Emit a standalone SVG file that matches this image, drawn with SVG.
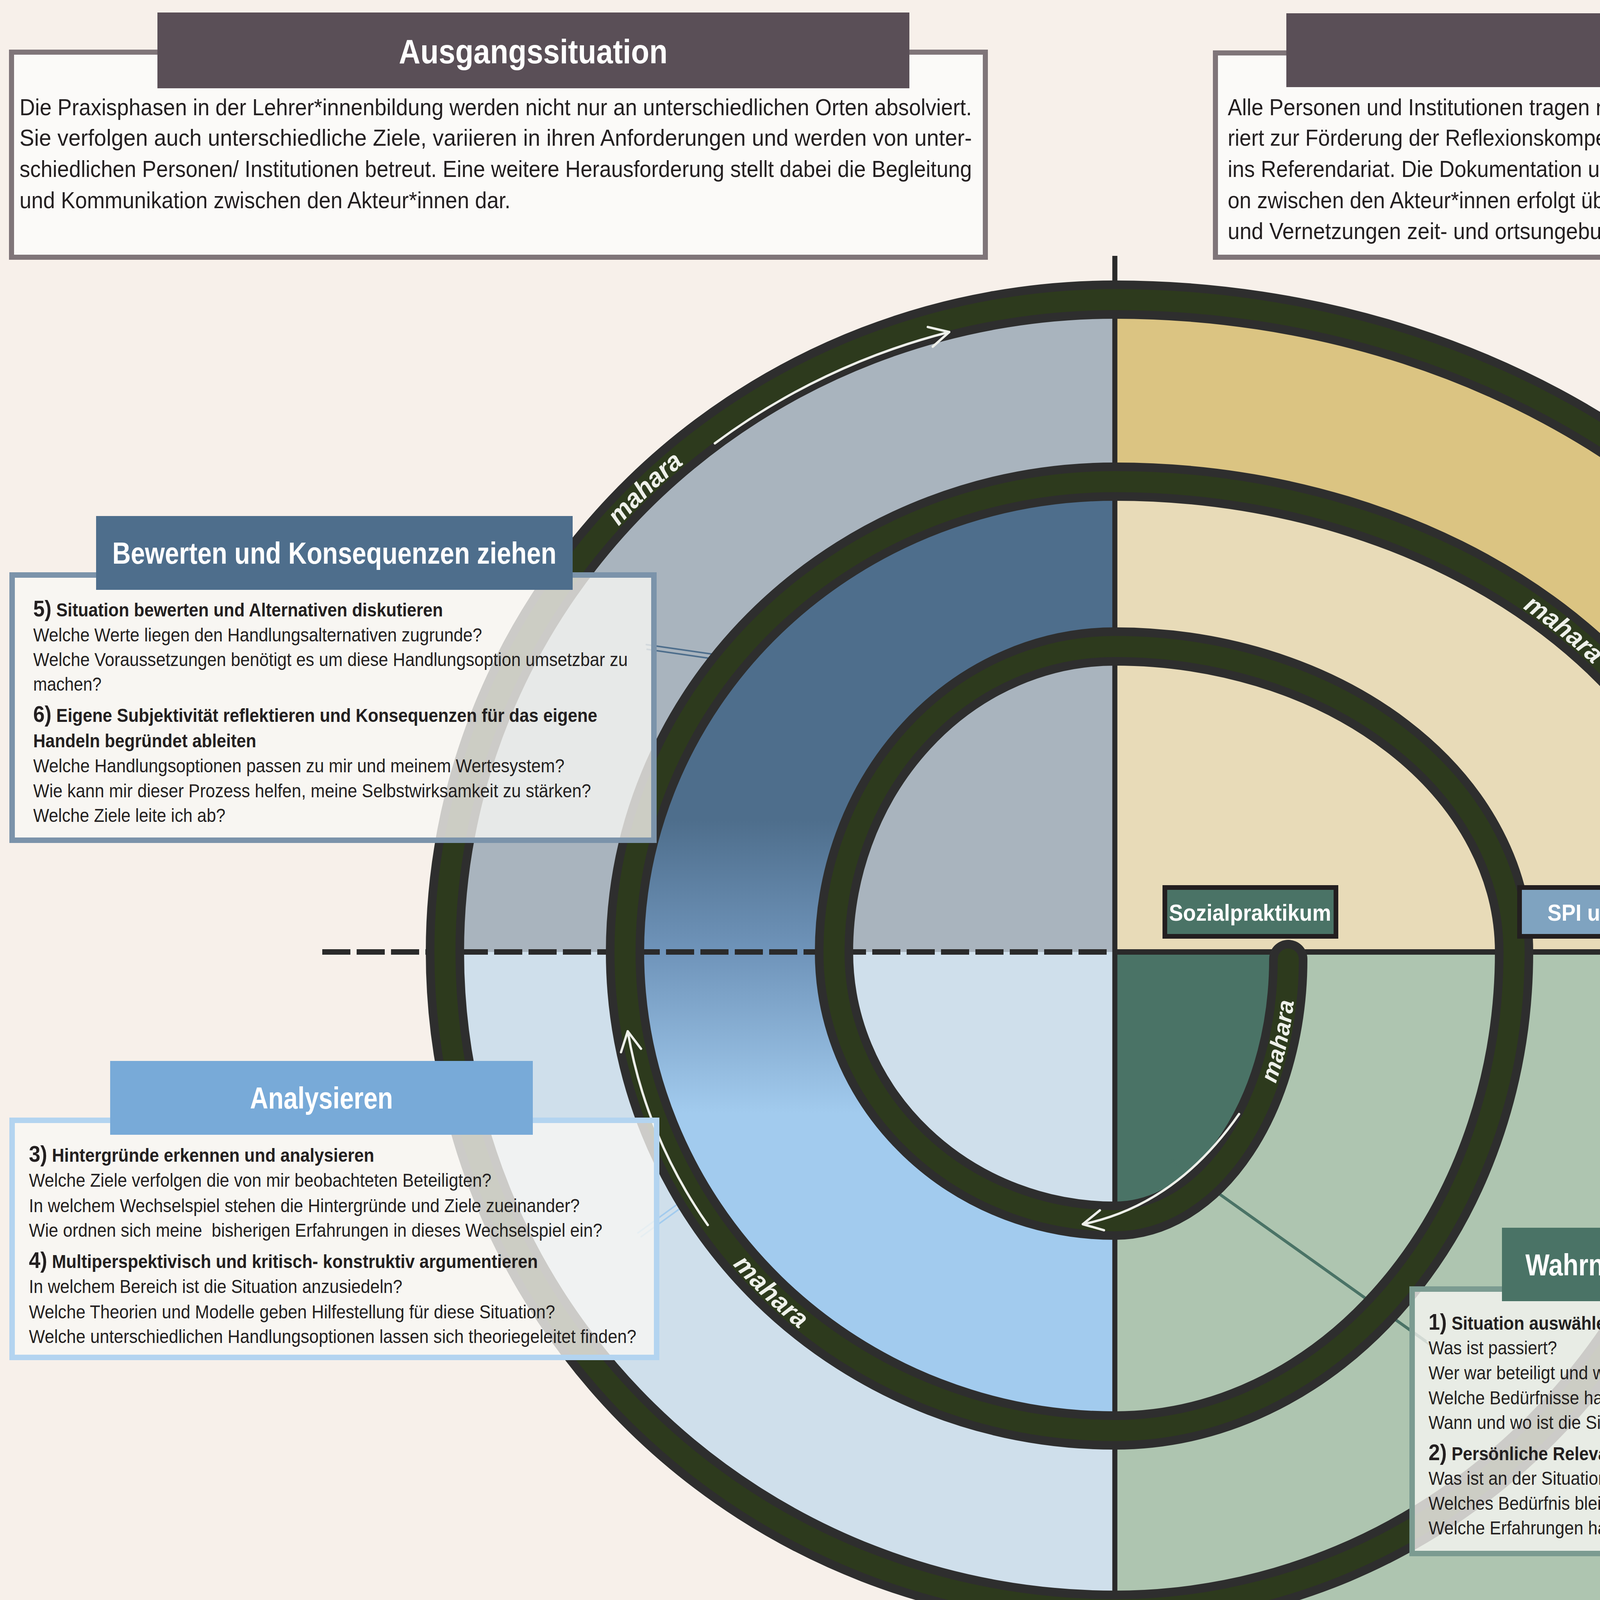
<svg xmlns="http://www.w3.org/2000/svg" width="5671" height="4701" viewBox="0 0 5671 4701">
<defs>
<style>
text{font-family:"Liberation Sans",Arial,sans-serif}
.bd{font-size:48px;fill:#231f20}
.tp{font-size:60px;fill:#231f20}
.bold{font-weight:bold}
.num{font-size:58px;font-weight:bold}
.num7{font-size:58px}
.hd{font-weight:bold;fill:#ffffff;text-anchor:middle}
.h1{font-size:88px}
.h2{font-size:78px}
.lb{font-size:60px}
.tk1{fill:none;stroke:#2e2e2e;stroke-width:98;stroke-linecap:round;stroke-linejoin:round}
.tk2{fill:none;stroke:#2d3a1d;stroke-width:54;stroke-linecap:round;stroke-linejoin:round}
.ar{fill:none;stroke:#eef0ea;stroke-width:6;stroke-linecap:round;marker-end:url(#ah)}
.mh{font-size:66px;font-weight:bold;font-style:italic;fill:#eef0ea;text-anchor:middle}
.ptr{stroke-width:4;fill:none}
.box{fill:#f8f7f4;fill-opacity:0.78;stroke-width:14}
.topbox{fill:#fbfaf8;stroke:#7f7579;stroke-width:13}
.lab{stroke:#231f20;stroke-width:12}
</style>
<linearGradient id="band" gradientUnits="userSpaceOnUse" x1="0" y1="2100" x2="0" y2="2850">
<stop offset="0" stop-color="#4e6e8c"/>
<stop offset="0.45" stop-color="#6f94ba"/>
<stop offset="1" stop-color="#a2cbee"/>
</linearGradient>
<marker id="ah" markerUnits="userSpaceOnUse" markerWidth="80" markerHeight="80" refX="62" refY="40" orient="auto" overflow="visible">
<path d="M12,14 L62,40 L12,66" fill="none" stroke="#eef0ea" stroke-width="6" stroke-linecap="round" stroke-linejoin="round"/>
</marker>
<path id="mp1" d="M1139,2437 A1715,1670 0 0 1 2854,767"/>
<path id="mp2" d="M2854,1233 A1587,1204 0 0 1 4441,2437"/>
<path id="mp3" d="M2854,3125 A444,670 0 0 0 3298,2455"/>
<path id="mp4" d="M1600,2437 A1254,1225 0 0 0 2854,3662"/>
</defs>

<rect x="0" y="0" width="5671" height="4701" fill="#f7f0ea"/>

<g id="regions">
<path d="M2854,2437 L1139,2437 A1715,1670 0 0 1 2854,767 Z" fill="#a9b4be"/>
<path d="M1600,2437 A1254,1204 0 0 1 2854,1233 L2854,1655 A719,782 0 0 0 2135,2437 Z" fill="url(#band)"/>
<path d="M2854,2437 L2854,767 A2041,1670 0 0 1 4895,2437 Z" fill="#dbc482"/>
<path d="M2854,2437 L2854,1233 A1587,1204 0 0 1 4441,2437 Z" fill="#e8dbb8"/>
<path d="M2854,2437 L4895,2437 C4895,3550 4400,4482 3488,4482 C3250,4482 3100,4405 2900,4405 L2854,4405 Z" fill="#aec5b0"/>
<path d="M2854,2437 L3298,2437 L3298,2455 A444,670 0 0 1 2854,3125 Z" fill="#4a7366"/>
<path d="M2854,2437 L2854,4121 A1715,1684 0 0 1 1139,2437 Z" fill="#cfdfeb"/>
<path d="M2854,3125 A719,688 0 0 1 2135,2437 L1600,2437 A1254,1225 0 0 0 2854,3662 Z" fill="url(#band)"/>
</g>

<g id="axes">
<line x1="2854" y1="655" x2="2854" y2="4701" stroke="#2a2a2a" stroke-width="13"/>
<line x1="2854" y1="2437" x2="4998" y2="2437" stroke="#2a2a2a" stroke-width="14"/>
<line x1="825" y1="2437" x2="2854" y2="2437" stroke="#2a2a2a" stroke-width="14" stroke-dasharray="72 16"/>
</g>

<g id="connectors">
<g id="pointers">
<line class="ptr" x1="1653" y1="1650" x2="1980" y2="1697" stroke="#4e6e8c"/>
<line class="ptr" x1="1655" y1="1662" x2="1982" y2="1709" stroke="#4e6e8c"/>
<line class="ptr" x1="1632" y1="3157" x2="1808" y2="3029" stroke="#a2cbee"/>
<line class="ptr" x1="1640" y1="3167" x2="1816" y2="3039" stroke="#a2cbee"/>
<line class="ptr" x1="4929" y1="1432" x2="4599" y2="1741" stroke="#d9c690"/>
<line class="ptr" x1="4937" y1="1440" x2="4607" y2="1749" stroke="#d9c690"/>
<line class="ptr" x1="2999" y1="2967" x2="3652" y2="3433" stroke="#4a7366"/>
<line class="ptr" x1="3007" y1="2977" x2="3660" y2="3443" stroke="#4a7366"/>
</g>
<g id="track">
<path class="tk1" d="M3298,2455 A444,670 0 0 1 2854,3125 A719,688 0 0 1 2135,2437 A719,782 0 0 1 2854,1655 A1022,782 0 0 1 3876,2437 A1022,1225 0 0 1 2854,3662 A1254,1225 0 0 1 1600,2437 A1254,1204 0 0 1 2854,1233 A1587,1204 0 0 1 4441,2437 A1587,1684 0 0 1 2854,4121 A1715,1684 0 0 1 1139,2437 A1715,1670 0 0 1 2854,767 A2041,1670 0 0 1 4895,2437 C4895,3550 4400,4482 3488,4482 C3250,4482 3100,4405 2900,4405 C2650,4405 2450,4587 2216,4587 C2000,4587 1800,4480 1600,4250"/>
<path class="tk2" d="M3298,2455 A444,670 0 0 1 2854,3125 A719,688 0 0 1 2135,2437 A719,782 0 0 1 2854,1655 A1022,782 0 0 1 3876,2437 A1022,1225 0 0 1 2854,3662 A1254,1225 0 0 1 1600,2437 A1254,1204 0 0 1 2854,1233 A1587,1204 0 0 1 4441,2437 A1587,1684 0 0 1 2854,4121 A1715,1684 0 0 1 1139,2437 A1715,1670 0 0 1 2854,767 A2041,1670 0 0 1 4895,2437 C4895,3550 4400,4482 3488,4482 C3250,4482 3100,4405 2900,4405 C2650,4405 2450,4587 2216,4587 C2000,4587 1800,4480 1600,4250"/>
</g>
<g id="mahara-arrows">
<path class="ar" d="M1830,1135 A1685,1640 0 0 1 2430,850"/>
<path class="ar" d="M4154,1776 A1567,1184 0 0 1 4413,2315"/>
<path class="ar" d="M1812,3136 A1264,1235 0 0 1 1607,2640"/>
<path class="ar" d="M3172,2852 Q3010,3085 2772,3134"/>
</g>
<g id="mahara-labels">
<text class="mh" dy="22"><textPath href="#mp1" startOffset="50%">mahara</textPath></text>
<text class="mh" dy="22"><textPath href="#mp2" startOffset="56%">mahara</textPath></text>
<text class="mh" dy="20" style="font-size:60px"><textPath href="#mp3" startOffset="76%">mahara</textPath></text>
<text class="mh" dy="22"><textPath href="#mp4" startOffset="50%">mahara</textPath></text>
</g>
</g>

<g id="sozialpraktikum">
<rect class="lab" x="2982" y="2272" width="438" height="125" fill="#4a7366"/>
<text class="hd lb" x="3200" y="2357" textLength="415" lengthAdjust="spacingAndGlyphs">Sozialpraktikum</text>
</g>
<g id="spi">
<rect class="lab" x="3890" y="2272" width="472" height="125" fill="#7fa3c0"/>
<text class="hd lb" x="4125" y="2357" textLength="327" lengthAdjust="spacingAndGlyphs">SPI und SPÜ</text>
</g>
<g id="spii">
<rect class="lab" x="4550" y="2272" width="674" height="125" fill="#a67a5f"/>
<text class="hd lb" x="4887" y="2357" textLength="496" lengthAdjust="spacingAndGlyphs">SP II und Fallstudie</text>
</g>
<g id="referendariat">
<polyline points="1550.5,4448 1550.5,4204.5 1804,4204.5" fill="none" stroke="#20242a" stroke-width="19"/>
<rect x="1600" y="4254" width="356" height="113" fill="#28381d"/>
<text class="hd" style="font-size:50px" x="1778" y="4330" textLength="279" lengthAdjust="spacingAndGlyphs">Referendariat</text>
</g>

<g id="ausgangssituation">
<rect class="topbox" x="29.5" y="133.5" width="2493" height="525"/>
<rect x="403" y="32" width="1925" height="194" fill="#5a4f57"/>
<text class="hd h1" x="1365" y="162" textLength="688" lengthAdjust="spacingAndGlyphs">Ausgangssituation</text>
<text class="tp" x="50" y="295" textLength="2438" lengthAdjust="spacingAndGlyphs">Die Praxisphasen in der Lehrer*innenbildung werden nicht nur an unterschiedlichen Orten absolviert.</text>
<text class="tp" x="50" y="373" textLength="2438" lengthAdjust="spacingAndGlyphs">Sie verfolgen auch unterschiedliche Ziele, variieren in ihren Anforderungen und werden von unter-</text>
<text class="tp" x="50" y="453" textLength="2438" lengthAdjust="spacingAndGlyphs">schiedlichen Personen/ Institutionen betreut. Eine weitere Herausforderung stellt dabei die Begleitung</text>
<text class="tp" x="50" y="533" textLength="1257" lengthAdjust="spacingAndGlyphs">und Kommunikation zwischen den Akteur*innen dar.</text>
</g>

<g id="ziel">
<rect class="topbox" x="3111.5" y="135.5" width="2507" height="523"/>
<rect x="3293" y="34" width="1926" height="189" fill="#5a4f57"/>
<text class="hd h1" x="4256" y="162" textLength="129" lengthAdjust="spacingAndGlyphs">Ziel</text>
<text class="tp" x="3143" y="295" textLength="2461" lengthAdjust="spacingAndGlyphs">Alle Personen und Institutionen tragen neben eigenen fachspezifischen Zielen koordiniert und struktu-</text>
<text class="tp" x="3143" y="373" textLength="2461" lengthAdjust="spacingAndGlyphs">riert zur Förderung der Reflexionskompetenz über alle Praxis- und Ausbildungsphasen hinweg bei - bis</text>
<text class="tp" x="3143" y="453" textLength="2461" lengthAdjust="spacingAndGlyphs">ins Referendariat. Die Dokumentation und Begleitung des Kompetenzerwerbs sowie die Kommunikati-</text>
<text class="tp" x="3143" y="533" textLength="2461" lengthAdjust="spacingAndGlyphs">on zwischen den Akteur*innen erfolgt über die ePortfolio-Plattform Mahara und ermöglicht Rückbezüge</text>
<text class="tp" x="3143" y="612" textLength="1094" lengthAdjust="spacingAndGlyphs">und Vernetzungen zeit- und ortsungebunden.</text>
</g>

<g id="erkenntnisse">
<rect class="box" x="4121" y="1017" width="1495" height="428" stroke="#e0d19f"/>
<rect x="4359" y="874" width="1079" height="189" fill="#a67a5f"/>
<text class="hd h2" x="4898" y="996" textLength="637" lengthAdjust="spacingAndGlyphs">Erkenntnisse nutzen</text>
<text class="bd" x="4142" y="1136" textLength="1294" lengthAdjust="spacingAndGlyphs"><tspan class="num7">7)</tspan><tspan class="bold"> Erkenntnisse für die weitere Ausbildung begründet ableiten</tspan></text>
<text class="bd" x="4142" y="1198" textLength="876" lengthAdjust="spacingAndGlyphs">Welche Schlussfolgerungen kann ich ziehen?</text>
<text class="bd" x="4142" y="1262" textLength="655" lengthAdjust="spacingAndGlyphs">Welche Art der Situation liegt vor?</text>
<text class="bd" x="4142" y="1327" textLength="801" lengthAdjust="spacingAndGlyphs">Wie kann ich diese Situation vorbereiten?</text>
<text class="bd" x="4142" y="1391" textLength="971" lengthAdjust="spacingAndGlyphs">Welche somatischen Marker kann ich ggf. setzen?</text>
</g>

<g id="bewerten">
<rect class="box" x="31" y="1472" width="1643" height="679" stroke="#7b93aa"/>
<rect x="246" y="1321" width="1220" height="189" fill="#4e6e8c"/>
<text class="hd h2" x="856" y="1443" textLength="1137" lengthAdjust="spacingAndGlyphs">Bewerten und Konsequenzen ziehen</text>
<text class="bd" x="85" y="1578" textLength="1049" lengthAdjust="spacingAndGlyphs"><tspan class="num">5)</tspan><tspan class="bold"> Situation bewerten und Alternativen diskutieren</tspan></text>
<text class="bd" x="85" y="1642" textLength="1149" lengthAdjust="spacingAndGlyphs">Welche Werte liegen den Handlungsalternativen zugrunde?</text>
<text class="bd" x="85" y="1705" textLength="1522" lengthAdjust="spacingAndGlyphs">Welche Voraussetzungen benötigt es um diese Handlungsoption umsetzbar zu</text>
<text class="bd" x="85" y="1768" textLength="175" lengthAdjust="spacingAndGlyphs">machen?</text>
<text class="bd" x="85" y="1848" textLength="1444" lengthAdjust="spacingAndGlyphs"><tspan class="num">6)</tspan><tspan class="bold"> Eigene Subjektivität reflektieren und Konsequenzen für das eigene</tspan></text>
<text class="bd bold" x="85" y="1913" textLength="571" lengthAdjust="spacingAndGlyphs">Handeln begründet ableiten</text>
<text class="bd" x="85" y="1977" textLength="1360" lengthAdjust="spacingAndGlyphs">Welche Handlungsoptionen passen zu mir und meinem Wertesystem?</text>
<text class="bd" x="85" y="2041" textLength="1428" lengthAdjust="spacingAndGlyphs">Wie kann mir dieser Prozess helfen, meine Selbstwirksamkeit zu stärken?</text>
<text class="bd" x="85" y="2104" textLength="492" lengthAdjust="spacingAndGlyphs">Welche Ziele leite ich ab?</text>
</g>

<g id="analysieren">
<rect class="box" x="31" y="2868" width="1650" height="607" stroke="#b3d4f0"/>
<rect x="282" y="2716" width="1082" height="189" fill="#78aad8"/>
<text class="hd h2" x="823" y="2838" textLength="366" lengthAdjust="spacingAndGlyphs">Analysieren</text>
<text class="bd" x="74" y="2974" textLength="884" lengthAdjust="spacingAndGlyphs"><tspan class="num">3)</tspan><tspan class="bold"> Hintergründe erkennen und analysieren</tspan></text>
<text class="bd" x="74" y="3038" textLength="1184" lengthAdjust="spacingAndGlyphs">Welche Ziele verfolgen die von mir beobachteten Beteiligten?</text>
<text class="bd" x="74" y="3103" textLength="1410" lengthAdjust="spacingAndGlyphs">In welchem Wechselspiel stehen die Hintergründe und Ziele zueinander?</text>
<text class="bd" x="74" y="3166" textLength="1468" lengthAdjust="spacingAndGlyphs" xml:space="preserve">Wie ordnen sich meine  bisherigen Erfahrungen in dieses Wechselspiel ein?</text>
<text class="bd" x="74" y="3246" textLength="1303" lengthAdjust="spacingAndGlyphs"><tspan class="num">4)</tspan><tspan class="bold"> Multiperspektivisch und kritisch- konstruktiv argumentieren</tspan></text>
<text class="bd" x="74" y="3310" textLength="956" lengthAdjust="spacingAndGlyphs">In welchem Bereich ist die Situation anzusiedeln?</text>
<text class="bd" x="74" y="3375" textLength="1347" lengthAdjust="spacingAndGlyphs">Welche Theorien und Modelle geben Hilfestellung für diese Situation?</text>
<text class="bd" x="74" y="3438" textLength="1555" lengthAdjust="spacingAndGlyphs">Welche unterschiedlichen Handlungsoptionen lassen sich theoriegeleitet finden?</text>
</g>

<g id="wahrnehmen">
<rect class="box" x="3615" y="3300" width="1542" height="677" stroke="#7b9b91"/>
<rect x="3845" y="3143" width="1082" height="188" fill="#4a7366"/>
<text class="hd h2" x="4386" y="3265" textLength="962" lengthAdjust="spacingAndGlyphs">Wahrnehmen und Beschreiben</text>
<text class="bd" x="3657" y="3404" textLength="841" lengthAdjust="spacingAndGlyphs"><tspan class="num">1)</tspan><tspan class="bold"> Situation auswählen und beschreiben</tspan></text>
<text class="bd" x="3657" y="3467" textLength="329" lengthAdjust="spacingAndGlyphs">Was ist passiert?</text>
<text class="bd" x="3657" y="3531" textLength="1443" lengthAdjust="spacingAndGlyphs">Wer war beteiligt und welche Beziehung herrscht zwischen den Personen?</text>
<text class="bd" x="3657" y="3595" textLength="811" lengthAdjust="spacingAndGlyphs">Welche Bedürfnisse hatten die Personen?</text>
<text class="bd" x="3657" y="3658" textLength="760" lengthAdjust="spacingAndGlyphs">Wann und wo ist die Situation passiert?</text>
<text class="bd" x="3657" y="3738" textLength="744" lengthAdjust="spacingAndGlyphs"><tspan class="num">2)</tspan><tspan class="bold"> Persönliche Relevanz begründen</tspan></text>
<text class="bd" x="3657" y="3801" textLength="811" lengthAdjust="spacingAndGlyphs">Was ist an der Situation auffällig für mich?</text>
<text class="bd" x="3657" y="3865" textLength="836" lengthAdjust="spacingAndGlyphs">Welches Bedürfnis bleibt für mich unerfüllt?</text>
<text class="bd" x="3657" y="3928" textLength="1290" lengthAdjust="spacingAndGlyphs">Welche Erfahrungen habe ich bisher mit dieser Situation gemacht?</text>
</g>
</svg>
